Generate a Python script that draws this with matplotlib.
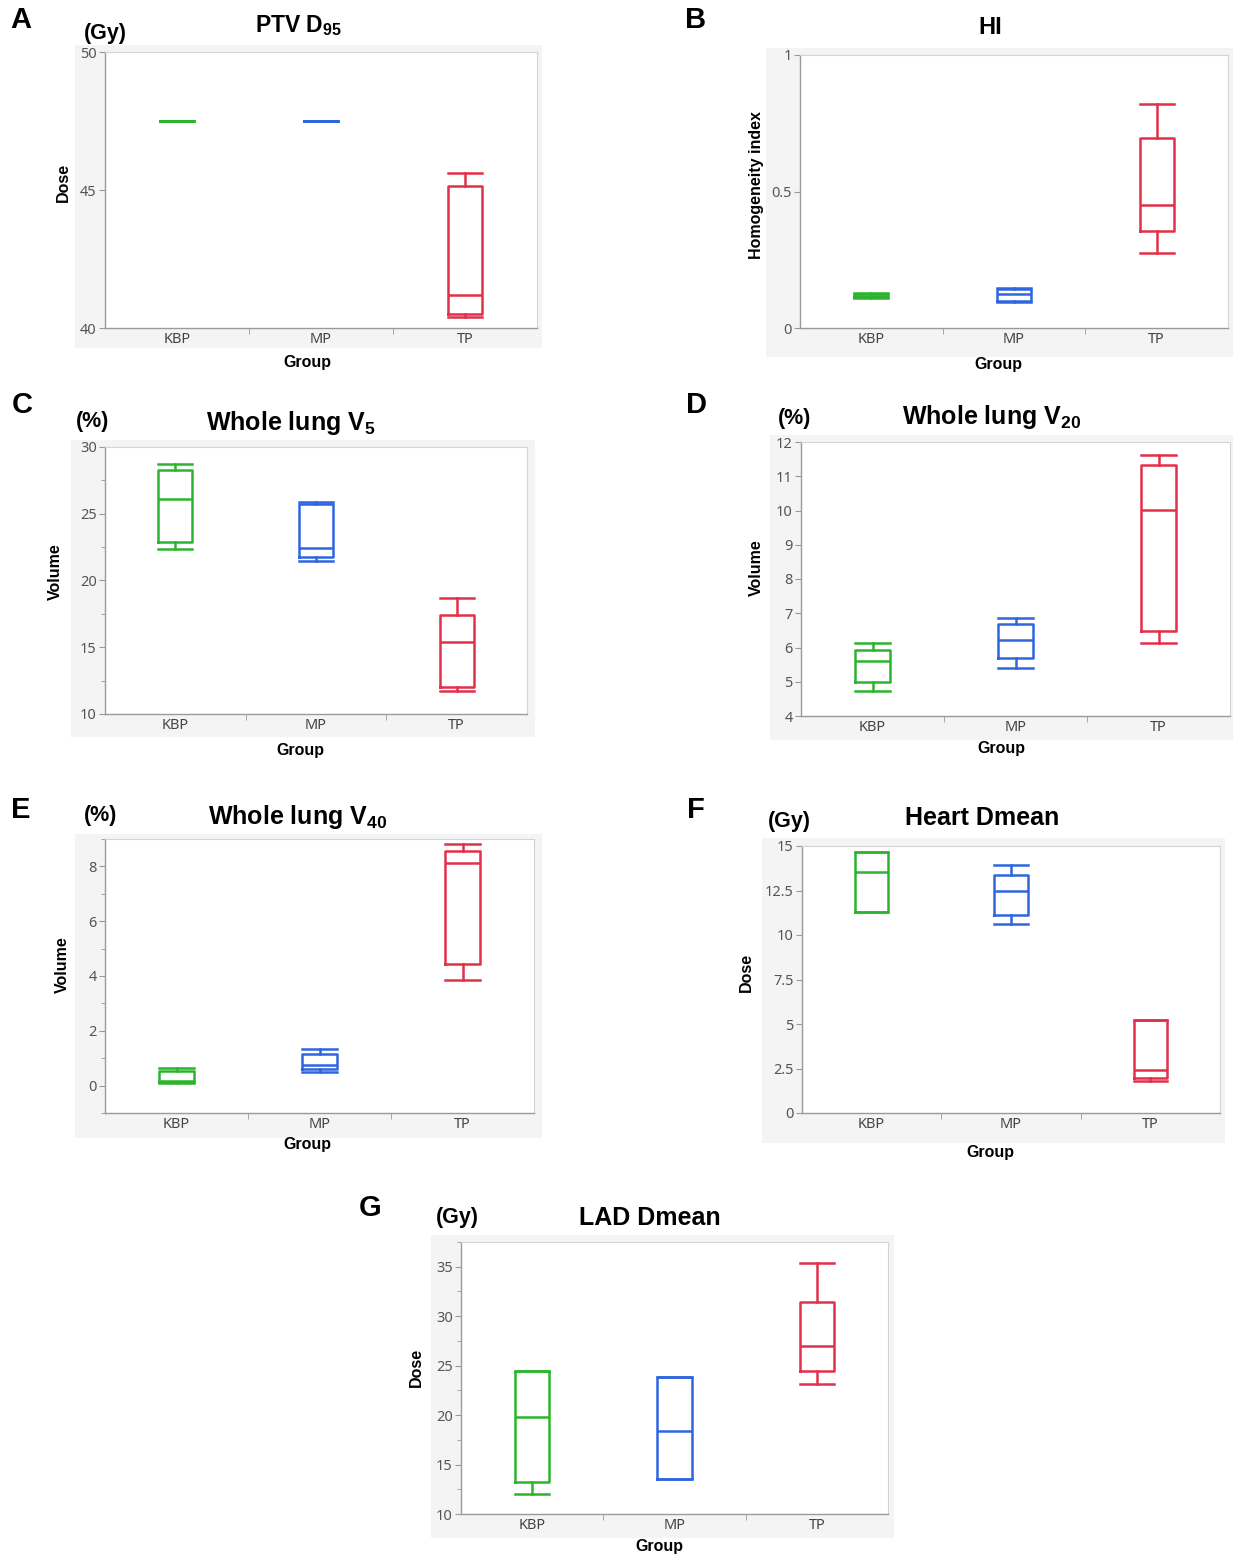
import matplotlib
matplotlib.use("Agg")
import matplotlib.pyplot as plt
from matplotlib.patches import Rectangle

plt.rcParams['font.family'] = ['Liberation Sans', 'DejaVu Sans']
plt.rcParams['mathtext.fontset'] = 'custom'
plt.rcParams['mathtext.rm'] = 'Liberation Sans'
plt.rcParams['mathtext.bf'] = 'Liberation Sans:bold'

W, H = 1233, 1557

groups = ['KBP', 'MP', 'TP']
colors = ['#2cb52c', '#2f66e0', '#e3304a']

# five-number summaries per group: [whisker low, q1, median, q3, whisker high]
ptv_d95 = [
    [47.5, 47.5, 47.5, 47.5, 47.5],
    [47.5, 47.5, 47.5, 47.5, 47.5],
    [40.4, 40.5, 41.2, 45.15, 45.6],
]
hi = [
    [0.110, 0.112, 0.118, 0.125, 0.127],
    [0.095, 0.098, 0.124, 0.143, 0.146],
    [0.274, 0.354, 0.449, 0.695, 0.820],
]
lung_v5 = [
    [22.35, 22.85, 26.1, 28.25, 28.75],
    [21.45, 21.75, 22.4, 25.7, 25.85],
    [11.7, 12.03, 15.4, 17.38, 18.7],
]
lung_v20 = [
    [4.72, 5.0, 5.6, 5.93, 6.13],
    [5.39, 5.68, 6.23, 6.68, 6.85],
    [6.12, 6.48, 10.01, 11.32, 11.63],
]
lung_v40 = [
    [0.08, 0.12, 0.18, 0.55, 0.65],
    [0.48, 0.62, 0.74, 1.14, 1.32],
    [3.85, 4.44, 8.11, 8.56, 8.8],
]
heart_dmean = [
    [11.31, 11.31, 13.54, 14.64, 14.64],
    [10.62, 11.12, 12.49, 13.37, 13.93],
    [1.82, 1.97, 2.42, 5.2, 5.2],
]
lad_dmean = [
    [12.0, 13.19, 19.8, 24.43, 24.43],
    [13.49, 13.49, 18.39, 23.86, 23.86],
    [23.12, 24.46, 27.01, 31.44, 35.34],
]

fig = plt.figure(figsize=(W / 100, H / 100), dpi=100)
fig.patch.set_facecolor('white')


def fx(x):
    return x / W


def fy(y):
    return 1 - y / H


def panel(data, axbox, bgbox, ylim, yticks, ylabels, minor, letter, letter_xy,
          title, title_xy, title_size, unit, unit_xy, ylab, ylab_xy, group_xy):
    l, t, r, b = bgbox
    fig.add_artist(Rectangle((fx(l), fy(b)), fx(r - l), (b - t) / H,
                             transform=fig.transFigure, facecolor='#f4f4f4',
                             edgecolor='none', zorder=-1))
    l, t, r, b = axbox
    ax = fig.add_axes([fx(l), fy(b), fx(r - l), (b - t) / H])
    ax.set_facecolor('white')
    for i, (vals, c) in enumerate(zip(data, colors)):
        st = dict(whislo=vals[0], q1=vals[1], med=vals[2], q3=vals[3],
                  whishi=vals[4], fliers=[])
        lp = dict(color=c, linewidth=1.8)
        ax.bxp([st], positions=[i], widths=0.24, capwidths=0.24,
               showfliers=False, manage_ticks=False,
               boxprops=lp, whiskerprops=lp, capprops=lp, medianprops=lp)
    ax.set_xlim(-0.5, 2.5)
    ax.set_ylim(*ylim)
    ax.set_xticks([0, 1, 2], groups)
    ax.set_xticks([0.5, 1.5], minor=True)
    ax.tick_params(axis='x', which='major', length=0, pad=3, labelsize=10.5,
                   labelcolor='#444444')
    ax.tick_params(axis='x', which='minor', length=4, color='#999999')
    ax.set_yticks(yticks, ylabels)
    if minor:
        ax.set_yticks(minor, minor=True)
    ax.tick_params(axis='y', which='both', length=4, color='#999999',
                   labelsize=10.5, labelcolor='#555555', pad=2)
    ax.tick_params(axis='y', which='minor', length=3)
    for lab in ax.get_xticklabels() + ax.get_yticklabels():
        lab.set_fontfamily(['Noto Sans', 'DejaVu Sans'])
    for s in ['left', 'bottom']:
        ax.spines[s].set_color('#9a9a9a')
        ax.spines[s].set_linewidth(1.0)
    for s in ['top', 'right']:
        ax.spines[s].set_color('#d4d4d4')
        ax.spines[s].set_linewidth(0.8)

    fig.text(fx(letter_xy[0]), fy(letter_xy[1]), letter, fontsize=21,
             fontweight='bold', ha='center', va='center')
    fig.text(fx(title_xy[0]), fy(title_xy[1]), title, fontsize=title_size,
             fontweight='bold', ha='center', va='center')
    if unit:
        fig.text(fx(unit_xy[0]), fy(unit_xy[1]), unit, fontsize=15.5,
                 fontweight='bold', ha='center', va='center')
    fig.text(fx(ylab_xy[0]), fy(ylab_xy[1]), ylab, fontsize=11.5,
             fontweight='bold', ha='center', va='center', rotation=90)
    fig.text(fx(group_xy[0]), fy(group_xy[1]), 'Group', fontsize=11.5,
             fontweight='bold', ha='center', va='center')
    return ax


panel(ptv_d95, (105, 52, 537, 328), (75, 45, 542, 348), (40, 50), [40, 45, 50],
      ['40', '45', '50'], None, 'A', (21, 20),
      r'PTV D$_{\mathbf{95}}$', (298, 26), 16.5, '(Gy)', (105, 34), 'Dose', (63, 182),
      (307, 363))

panel(hi, (800, 55, 1228, 328), (766, 48, 1233, 357), (0, 1), [0, 0.5, 1],
      ['0', '0.5', '1'], None, 'B', (696, 20),
      'HI', (990, 28), 17, None, None, 'Homogeneity index', (756, 185),
      (998, 364))

panel(lung_v5, (105, 447, 527, 714), (71, 440, 535, 737), (10, 30),
      [10, 15, 20, 25, 30], ['10', '15', '20', '25', '30'],
      [12.5, 17.5, 22.5, 27.5], 'C', (22, 405),
      r'Whole lung V$_{\mathbf{5}}$', (291, 423), 18, '(%)', (93, 421),
      'Volume', (55, 572), (300, 751))

panel(lung_v20, (801, 442, 1230, 716), (770, 435, 1233, 740), (4, 12),
      [4, 5, 6, 7, 8, 9, 10, 11, 12],
      ['4', '5', '6', '7', '8', '9', '10', '11', '12'], None, 'D', (696, 405),
      r'Whole lung V$_{\mathbf{20}}$', (992, 417), 18, '(%)', (795, 418),
      'Volume', (756, 568), (1001, 748))

panel(lung_v40, (105, 839, 534, 1113), (75, 834, 542, 1138), (-1, 9),
      [0, 2, 4, 6, 8], ['0', '2', '4', '6', '8'], [-1, 1, 3, 5, 7, 9],
      'E', (21, 810), r'Whole lung V$_{\mathbf{40}}$', (298, 817), 18,
      '(%)', (101, 815), 'Volume', (62, 965), (307, 1144))

panel(heart_dmean, (802, 846, 1220, 1113), (762, 838, 1225, 1143), (0, 15),
      [0, 2.5, 5, 7.5, 10, 12.5, 15],
      ['0', '2.5', '5', '7.5', '10', '12.5', '15'], None, 'F', (696, 810),
      'Heart Dmean', (982, 818), 18, '(Gy)', (789, 822), 'Dose', (746, 972),
      (990, 1152))

panel(lad_dmean, (461, 1242, 888, 1514), (431, 1235, 894, 1538), (10, 37.5),
      [10, 15, 20, 25, 30, 35], ['10', '15', '20', '25', '30', '35'],
      [12.5, 17.5, 22.5, 27.5, 32.5, 37.5], 'G', (370, 1208),
      'LAD Dmean', (650, 1218), 18, '(Gy)', (457, 1217), 'Dose', (416, 1367),
      (659, 1546))

fig.savefig('out.png', dpi=100)
